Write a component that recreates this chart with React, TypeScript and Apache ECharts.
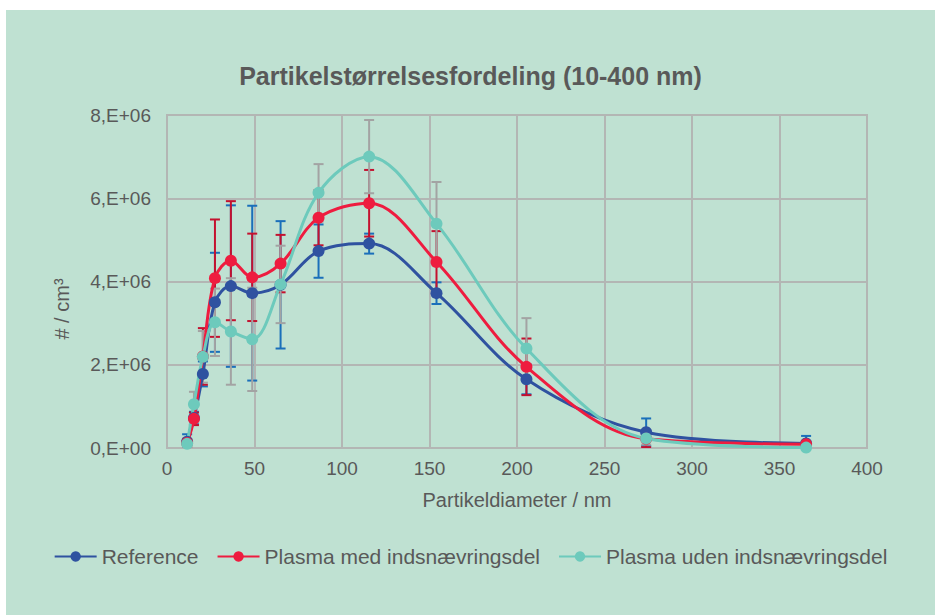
import React, { useEffect, useRef } from "react";
import * as echarts from "echarts";

// Particle diameters (nm) of the measured size bins
const diameters = [11.5, 15.4, 20.5, 27.4, 36.5, 48.7, 64.9, 86.6, 115.5, 154.0, 205.4, 273.8, 365.2];

// Concentrations in units of 1e6 particles per cm³
const referenceValues = [0.15, 0.72, 1.78, 3.5, 3.89, 3.72, 3.92, 4.73, 4.91, 3.72, 1.65, 0.38, 0.11];
const referenceErrors = [0.18, 0.15, 0.3, 1.19, 1.94, 2.1, 1.53, 0.64, 0.24, 0.26, 0.36, 0.33, 0.18];

const medValues = [0.12, 0.7, 2.2, 4.08, 4.5, 4.1, 4.43, 5.53, 5.88, 4.47, 1.95, 0.22, 0.09];
const medErrors = [0.1, 0.15, 0.68, 1.41, 1.43, 1.05, 0.69, 0.66, 0.8, 0.74, 0.68, 0.2, 0.08];

const udenValues = [0.1, 1.05, 2.19, 3.02, 2.8, 2.61, 3.93, 6.13, 7.0, 5.39, 2.39, 0.23, 0.01];
const udenErrors = [0.1, 0.3, 0.62, 0.81, 1.28, 1.24, 0.93, 0.69, 0.88, 1.0, 0.73, 0.15, 0.05];

const seriesNames = ["Reference", "Plasma med indsnævringsdel", "Plasma uden indsnævringsdel"];
const lineColors = ["#2f52a0", "#ee1c3f", "#6dcabc"];
const errorColors = ["#1a6fba", "#c4112f", "#a3a3a3"];

const yTickValues = [0, 2, 4, 6, 8];

const FONT = "'Liberation Sans', Arial, sans-serif";
const TEXT = "#595959";
const GRID = "#b3b6b4";
const SCALE = 1e6;

function lineData(values: number[]) {
  return diameters.map((d, i) => [d, values[i] * SCALE]);
}

function errorData(values: number[], errors: number[]) {
  return diameters.map((d, i) => [d, (values[i] - errors[i]) * SCALE, (values[i] + errors[i]) * SCALE]);
}

function errorSeries(name: string, color: string, data: number[][]) {
  return {
    type: "custom",
    name,
    z: 1,
    clip: true,
    encode: { x: 0, y: [1, 2] },
    data,
    renderItem: (_params: any, api: any) => {
      const x = api.value(0);
      const lo = api.coord([x, api.value(1)]);
      const hi = api.coord([x, api.value(2)]);
      const w = 5;
      const style = { stroke: color, lineWidth: 2 };
      return {
        type: "group",
        children: [
          { type: "line", shape: { x1: lo[0], y1: lo[1], x2: hi[0], y2: hi[1] }, style },
          { type: "line", shape: { x1: lo[0] - w, y1: lo[1], x2: lo[0] + w, y2: lo[1] }, style },
          { type: "line", shape: { x1: hi[0] - w, y1: hi[1], x2: hi[0] + w, y2: hi[1] }, style },
        ],
      };
    },
  };
}

function lineSeries(name: string, color: string, values: number[]) {
  return {
    type: "line",
    name,
    z: 3,
    data: lineData(values),
    smooth: 0.35,
    symbol: "circle",
    symbolSize: 12,
    lineStyle: { color, width: 3 },
    itemStyle: { color },
  };
}

export default function App() {
  const ref = useRef<HTMLDivElement>(null);

  useEffect(() => {
    if (!ref.current) return;
    const chart = echarts.init(ref.current, undefined, { renderer: "svg" });
    const valueSets = [referenceValues, medValues, udenValues];
    const errorSets = [referenceErrors, medErrors, udenErrors];

    chart.setOption({
      animation: false,
      backgroundColor: "#bfe1d2",
      textStyle: { fontFamily: FONT },
      title: {
        text: "Partikelstørrelsesfordeling (10-400 nm)",
        left: "center",
        top: 48,
        textStyle: { fontFamily: FONT, fontSize: 25, fontWeight: "bold", color: TEXT },
      },
      legend: {
        data: seriesNames,
        left: "center",
        top: 531,
        itemWidth: 42,
        itemHeight: 13,
        itemGap: 18,
        textStyle: { fontFamily: FONT, fontSize: 21, color: TEXT },
      },
      grid: {
        left: 161,
        top: 105,
        width: 700,
        height: 333,
        show: true,
        borderColor: GRID,
        borderWidth: 2,
        backgroundColor: "transparent",
      },
      xAxis: {
        type: "value",
        min: 0,
        max: 400,
        interval: 50,
        name: "Partikeldiameter / nm",
        nameLocation: "middle",
        nameGap: 42,
        nameTextStyle: { fontFamily: FONT, fontSize: 20, color: TEXT },
        axisLine: { show: false },
        axisTick: { show: false },
        axisLabel: { fontFamily: FONT, fontSize: 19, color: TEXT, margin: 11 },
        splitLine: { show: true, lineStyle: { color: GRID, width: 2 } },
      },
      yAxis: {
        type: "value",
        min: 0,
        max: yTickValues[yTickValues.length - 1] * SCALE,
        interval: 2 * SCALE,
        axisLine: { show: false },
        axisTick: { show: false },
        axisLabel: {
          fontFamily: FONT,
          fontSize: 19,
          color: TEXT,
          margin: 16,
          formatter: (v: number) => (v === 0 ? "0,E+00" : `${Math.round(v / SCALE)},E+06`),
        },
        splitLine: { show: true, lineStyle: { color: GRID, width: 2 } },
      },
      graphic: [
        {
          type: "text",
          x: 56,
          y: 299,
          rotation: Math.PI / 2,
          style: {
            text: "# / cm³",
            fontFamily: FONT,
            fontSize: 20,
            fill: TEXT,
            align: "center",
            verticalAlign: "middle",
          },
        },
      ],
      series: [
        ...seriesNames.map((n, i) => errorSeries(n + " fejl", errorColors[i], errorData(valueSets[i], errorSets[i]))),
        ...seriesNames.map((n, i) => lineSeries(n, lineColors[i], valueSets[i])),
      ],
    });

    return () => chart.dispose();
  }, []);

  return (
    <div
      style={{ position: "absolute", left: 6, top: 10, width: 929, height: 605 }}
      ref={ref}
    />
  );
}
